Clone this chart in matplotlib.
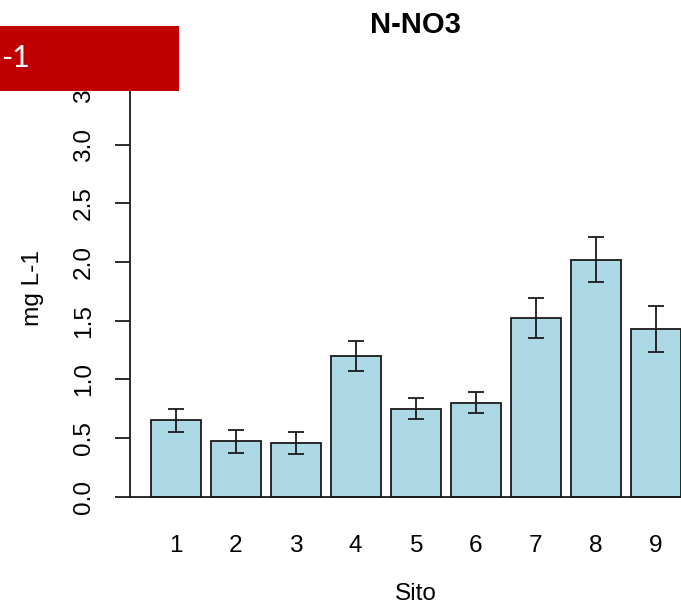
import matplotlib.pyplot as plt
from matplotlib.patches import Rectangle
import numpy as np

plt.rcParams['font.family'] = ['Liberation Sans', 'DejaVu Sans']

# concentrazione media di N-NO3 per sito, con errore standard
siti = ['1', '2', '3', '4', '5', '6', '7', '8', '9']
media = [0.65, 0.47, 0.46, 1.20, 0.75, 0.80, 1.52, 2.02, 1.43]
errore = [0.10, 0.095, 0.095, 0.13, 0.09, 0.09, 0.17, 0.195, 0.195]
y_ticks = [0.0, 0.5, 1.0, 1.5, 2.0, 2.5, 3.0, 3.5]

W, H = 681, 606
fig = plt.figure(figsize=(W / 100, H / 100), dpi=100)

# regione del grafico come in barplot() di R (si estende oltre il bordo destro)
ax_l, ax_r, ax_t, ax_b = 129.5, 701.9, 69.4, 513.1
ax = fig.add_axes([ax_l / W, 1 - ax_b / H, (ax_r - ax_l) / W, (ax_b - ax_t) / H])

x = 0.7 + 1.2 * np.arange(len(siti))
linea = '#1a1a1a'
ax.bar(x, media, width=1.0, color='lightblue', edgecolor=linea, linewidth=1.3, zorder=2)
ax.errorbar(x, media, yerr=errore, fmt='none', ecolor=linea, elinewidth=1.3,
            capsize=5.8, capthick=1.3, zorder=3)
ax.axhline(0, color=linea, linewidth=1.3, zorder=4)

ax.set_xlim(-0.224, 11.224)
ax.set_ylim(-0.14, 3.64)

for s in ['top', 'right', 'bottom']:
    ax.spines[s].set_visible(False)
ax.spines['left'].set_bounds(0, 3.5)
ax.spines['left'].set_color(linea)
ax.spines['left'].set_linewidth(1.3)

ax.set_yticks(y_ticks)
ax.set_yticklabels([f'{v:.1f}' for v in y_ticks])
ax.tick_params(axis='y', length=11, width=1.3, color=linea, labelsize=17.6,
               pad=14, labelrotation=90)
for lab in ax.get_yticklabels():
    lab.set_va('center')

ax.set_xticks(x)
ax.set_xticklabels(siti)
ax.tick_params(axis='x', length=0, labelsize=17.6, pad=15.5)

ax.set_title('N-NO3', fontsize=21, fontweight='bold', pad=26)
fig.text(415.7 / W, 1 - 600 / H, 'Sito', fontsize=17.6, ha='center', va='baseline')
fig.text(33 / W, 1 - 288 / H, 'mg L-1', fontsize=17.6, rotation=90,
         ha='center', va='center')

# riquadro rosso sovrapposto in alto a sinistra
fig.add_artist(Rectangle((0, 1 - 91 / H), 179 / W, 65 / H, transform=fig.transFigure,
                         facecolor='#c00000', edgecolor='none', zorder=10))
fig.text(1 / W, 1 - 58 / H, '-1', fontsize=22, color='white', family=['Lato', 'DejaVu Sans'],
         ha='left', va='center', zorder=11)

fig.savefig('out.png', dpi=100)
